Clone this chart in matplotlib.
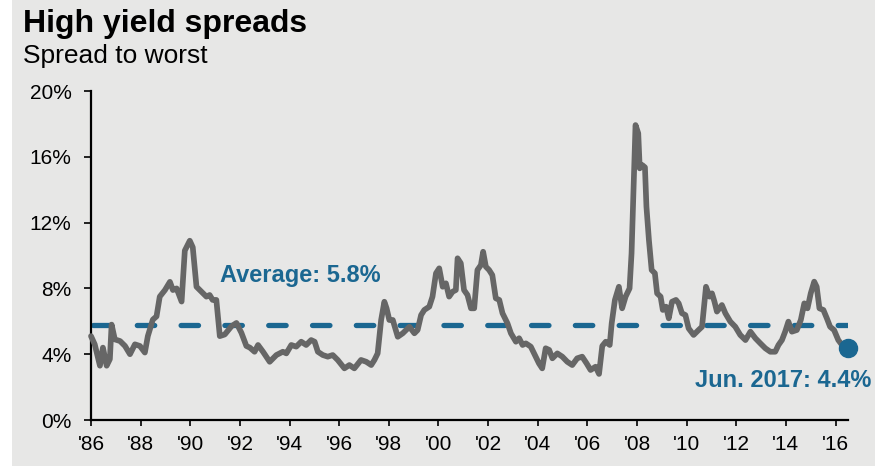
import matplotlib
matplotlib.use("Agg")
import matplotlib.pyplot as plt
from matplotlib.patches import Rectangle

# High yield spread to worst (decimal year as placed on the chart's axis, %)
years = [
    1986.00, 1986.15, 1986.36, 1986.48, 1986.63, 1986.76, 1986.83, 1986.96,
    1987.17, 1987.37, 1987.57, 1987.77, 1987.97, 1988.17, 1988.29, 1988.49,
    1988.64, 1988.77, 1988.98, 1989.18, 1989.30, 1989.45, 1989.65, 1989.78,
    1989.98, 1990.10, 1990.25, 1990.45, 1990.65, 1990.78, 1990.90, 1991.05,
    1991.19, 1991.39, 1991.66, 1991.86, 1992.06, 1992.26, 1992.40, 1992.59,
    1992.73, 1992.93, 1993.20, 1993.47, 1993.73, 1993.87, 1994.07, 1994.27,
    1994.47, 1994.67, 1994.87, 1995.01, 1995.14, 1995.34, 1995.54, 1995.74,
    1995.94, 1996.21, 1996.41, 1996.61, 1996.88, 1997.09, 1997.29, 1997.42,
    1997.55, 1997.69, 1997.82, 1997.91, 1998.02, 1998.16, 1998.36, 1998.56,
    1998.83, 1999.03, 1999.16, 1999.30, 1999.43, 1999.63, 1999.76, 1999.90,
    2000.03, 2000.17, 2000.30, 2000.43, 2000.57, 2000.70, 2000.77, 2000.90,
    2001.03, 2001.17, 2001.31, 2001.44, 2001.57, 2001.71, 2001.80, 2001.91,
    2002.04, 2002.17, 2002.31, 2002.45, 2002.58, 2002.78, 2002.92, 2003.12,
    2003.25, 2003.39, 2003.52, 2003.72, 2003.92, 2004.05, 2004.18, 2004.32,
    2004.46, 2004.59, 2004.79, 2004.99, 2005.19, 2005.39, 2005.59, 2005.79,
    2005.97, 2006.13, 2006.33, 2006.47, 2006.60, 2006.74, 2006.90, 2006.98,
    2007.11, 2007.27, 2007.40, 2007.54, 2007.70, 2007.78, 2007.87, 2007.94,
    2008.05, 2008.11, 2008.21, 2008.32, 2008.38, 2008.48, 2008.59, 2008.72,
    2008.81, 2008.95, 2009.04, 2009.17, 2009.28, 2009.41, 2009.57, 2009.68,
    2009.81, 2009.95, 2010.08, 2010.28, 2010.48, 2010.62, 2010.78, 2010.92,
    2011.02, 2011.12, 2011.22, 2011.42, 2011.56, 2011.76, 2011.96, 2012.16,
    2012.37, 2012.57, 2012.77, 2012.97, 2013.17, 2013.37, 2013.57, 2013.70,
    2013.84, 2013.97, 2014.10, 2014.24, 2014.44, 2014.60, 2014.74, 2014.87,
    2015.00, 2015.14, 2015.24, 2015.35, 2015.51, 2015.65, 2015.78, 2015.94,
    2016.11, 2016.31, 2016.52,
]
spreads = [
    5.1, 4.6, 3.3, 4.4, 3.3, 3.7, 5.8, 4.9,
    4.8, 4.5, 4.0, 4.6, 4.5, 4.1, 5.1, 6.1,
    6.3, 7.5, 7.9, 8.4, 7.9, 8.0, 7.2, 10.3,
    10.9, 10.5, 8.1, 7.8, 7.5, 7.6, 7.3, 7.3,
    5.1, 5.2, 5.7, 5.9, 5.3, 4.5, 4.4, 4.15,
    4.56, 4.15, 3.54, 3.95, 4.15, 4.05, 4.56, 4.46,
    4.76, 4.56, 4.86, 4.76, 4.15, 3.95, 3.85, 3.95,
    3.65, 3.14, 3.34, 3.14, 3.65, 3.54, 3.34, 3.65,
    4.05, 6.08, 7.19, 6.79, 6.08, 6.08, 5.06, 5.27,
    5.67, 5.27, 5.47, 6.38, 6.69, 6.89, 7.5, 8.92,
    9.22, 8.1, 8.31, 7.5, 7.8, 7.9, 9.83, 9.53,
    7.9, 7.6, 6.79, 6.79, 9.12, 9.42, 10.23, 9.32,
    9.12, 8.81, 7.4, 7.3, 6.49, 5.88, 5.27, 4.76,
    4.97, 4.56, 4.66, 4.46, 3.85, 3.44, 3.14, 4.36,
    4.26, 3.75, 4.05, 3.85, 3.54, 3.34, 3.75, 3.85,
    3.44, 3.04, 3.24, 2.8, 4.5, 4.76, 4.56, 5.88,
    7.3, 8.1, 6.79, 7.5, 8.0, 10.13, 14.59, 17.93,
    17.43, 15.3, 15.5, 15.36, 12.97, 10.94, 9.12, 8.92,
    7.7, 7.5, 6.69, 6.89, 6.18, 7.19, 7.3, 7.09,
    6.49, 6.38, 5.57, 5.17, 5.47, 5.67, 8.1, 7.5,
    7.7, 7.2, 6.59, 6.99, 6.49, 5.98, 5.67, 5.17,
    4.86, 5.37, 4.97, 4.66, 4.36, 4.15, 4.15, 4.56,
    4.86, 5.37, 5.98, 5.37, 5.47, 6.08, 7.09, 6.79,
    7.7, 8.41, 8.1, 6.79, 6.69, 6.18, 5.67, 5.47,
    4.86, 4.46, 4.4,
]

average = 5.8
latest_label = "Jun. 2017: 4.4%"

tick_years = list(range(1986, 2017, 2))
tick_labels = ["'" + str(y)[2:] for y in tick_years]
y_ticks = [0, 4, 8, 12, 16, 20]
y_labels = [str(v) + "%" for v in y_ticks]

bg = "#e7e7e6"
blue = "#1b6791"
gray = "#666666"

plt.rcParams["font.family"] = ["Liberation Sans", "DejaVu Sans"]

fig = plt.figure(figsize=(8.81, 4.66), dpi=100)
fig.patch.set_facecolor("white")
fig.patches.append(
    Rectangle((12 / 881, 0), 863 / 881, 1, transform=fig.transFigure,
              facecolor=bg, edgecolor="none", zorder=-5)
)

ax = fig.add_axes([0.1033, 0.0987, 0.8592, 0.706])
ax.set_facecolor(bg)

# average line
ax.plot([1986.08, years[-1]], [average, average], color=blue, lw=3.8,
        dashes=(3.3, 5.0), dash_capstyle="round", zorder=2)

# spread series
ax.plot(years, spreads, color=gray, lw=4.1, solid_joinstyle="round",
        solid_capstyle="round", zorder=3, clip_on=False)
ax.plot(years[-1], spreads[-1], "o", color=blue, markersize=13,
        zorder=4, clip_on=False)

ax.text(1991.2, 8.4, "Average: " + str(average) + "%", color=blue,
        fontsize=17, fontweight="bold", va="baseline", ha="left")
ax.text(2017.45, 2.0, latest_label, color=blue, fontsize=17,
        fontweight="bold", va="baseline", ha="right")

ax.set_xlim(1986, 2016.5)
ax.set_ylim(0, 20)
ax.set_xticks(tick_years)
ax.set_xticklabels(tick_labels)
ax.set_yticks(y_ticks)
ax.set_yticklabels(y_labels)

for s in ["top", "right"]:
    ax.spines[s].set_visible(False)
for s in ["left", "bottom"]:
    ax.spines[s].set_linewidth(1.6)
    ax.spines[s].set_color("black")

ax.tick_params(axis="y", length=5, width=1.2, labelsize=15, pad=9)
ax.tick_params(axis="x", length=4, width=1.2, labelsize=15, pad=7)

fig.text(0.026, 0.932, "High yield spreads", fontsize=23,
         fontweight="bold", va="baseline", ha="left")
fig.text(0.026, 0.864, "Spread to worst", fontsize=19,
         va="baseline", ha="left")

fig.savefig("out.png", dpi=100, facecolor=fig.get_facecolor())
